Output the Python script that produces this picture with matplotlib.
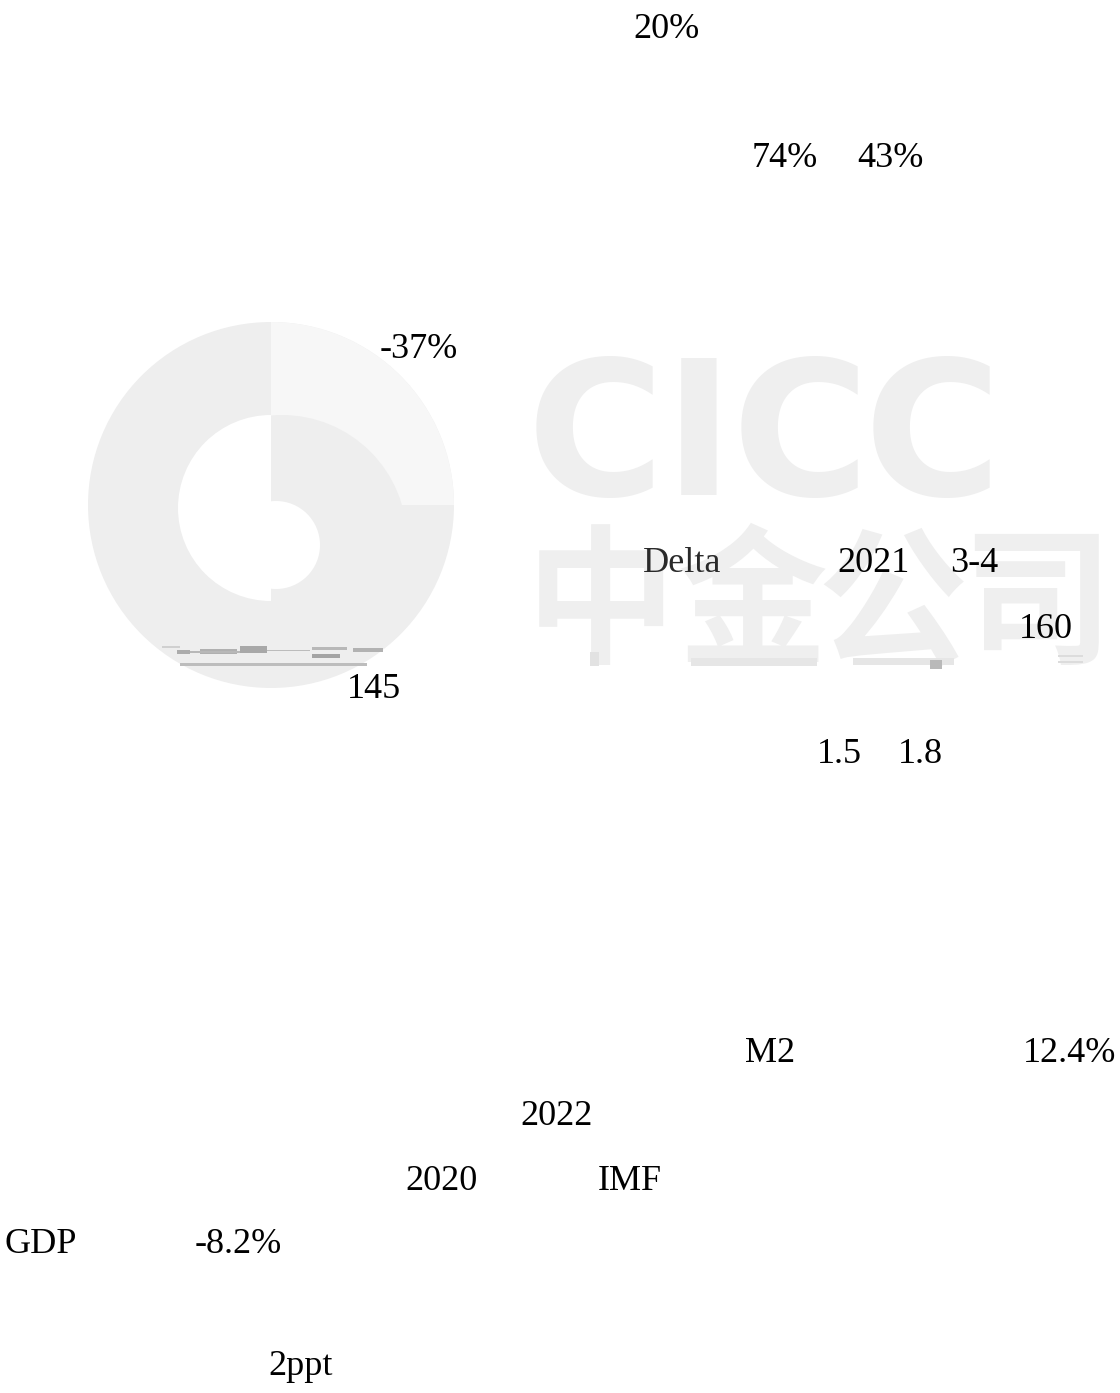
import matplotlib
matplotlib.use('Agg')
import matplotlib.pyplot as plt
from matplotlib.patches import Circle, Wedge, Rectangle

# visible fragments of the page text (only latin glyphs survived)
labels = ['20%', '74%', '43%', '-37%', 'Delta', '2021', '3-4', '160', '145',
          '1.5', '1.8', 'M2', '12.4%', '2022', '2020', 'IMF', 'GDP', '-8.2%', '2ppt']
label_x = [633, 752, 857, 380, 643, 837, 950, 1019, 347,
           817, 898, 745, 1023, 520, 405, 598, 4, 195, 268]
label_y = [38, 167, 167, 358, 572, 572, 572, 638, 698,
           763, 763, 1062, 1062, 1125, 1190, 1190, 1253, 1253, 1375]

# watermark text
logo_letters = ['C', 'I', 'C', 'C']
logo_letter_x = [595, 699, 800, 932]
cn_chars = ['中', '金', '公', '司']
cn_char_x = [601, 752, 892, 1037]

# grey scan streaks across the page
streak_x0 = [162, 177, 200, 190, 240, 267, 312, 312, 353, 180,
             590, 691, 853, 930, 1058, 1058]
streak_x1 = [180, 190, 237, 240, 267, 310, 347, 340, 383, 367,
             599, 817, 954, 942, 1083, 1083]
streak_y = [646, 650, 649, 651, 646, 650, 647, 654, 648, 663,
            652, 658, 658, 660, 655, 661]
streak_h = [2, 4, 5, 1.5, 7, 1.2, 3, 4, 4, 2.5,
            14, 8, 7, 9, 2, 2]
streak_c = ['#d0d0d0', '#acacac', '#b0b0b0', '#b8b8b8', '#a8a8a8', '#bcbcbc',
            '#b8b8b8', '#a4a4a4', '#b2b2b2', '#bdbdbd',
            '#e2e2e2', '#e6e6e6', '#e6e6e6', '#b9b9b9', '#dcdcdc', '#dcdcdc']

W, H = 1120, 1393
fig = plt.figure(figsize=(W / 100, H / 100), dpi=100)
ax = fig.add_axes([0, 0, 1, 1])
ax.set_xlim(0, W)
ax.set_ylim(H, 0)
ax.axis('off')

# CICC round logo (faint)
ax.add_patch(Circle((271, 505), 183, color='#eeeeee', lw=0, zorder=1))
ax.add_patch(Wedge((271, 505), 183, 270, 360, color='#f7f7f7', lw=0, zorder=1))
ax.add_patch(Circle((282, 540), 125, color='#eeeeee', lw=0, zorder=1))
ax.add_patch(Wedge((271, 508), 93, 90, 270, color='white', lw=0, zorder=1))
ax.add_patch(Circle((276, 545), 44, color='white', lw=0, zorder=1))

for ch, x in zip(logo_letters, logo_letter_x):
    ax.text(x, 495, ch, fontsize=135, fontweight='bold', family='DejaVu Sans',
            color='#efefef', ha='center', va='baseline', zorder=1)
for ch, x in zip(cn_chars, cn_char_x):
    ax.text(x, 652, ch, fontsize=108, fontweight='bold', family='Noto Sans CJK SC',
            color='#efefef', ha='center', va='baseline', zorder=1)

for x0, x1, y, h, c in zip(streak_x0, streak_x1, streak_y, streak_h, streak_c):
    ax.add_patch(Rectangle((x0, y), x1 - x0, h, color=c, lw=0, zorder=2))

for s, x, y in zip(labels, label_x, label_y):
    col = '#2a2a2a' if s == 'Delta' else 'black'
    ax.text(x, y, s, fontsize=26, family=['Liberation Serif', 'DejaVu Serif'],
            color=col, ha='left', va='baseline', zorder=3)

fig.savefig('out.png', dpi=100)
